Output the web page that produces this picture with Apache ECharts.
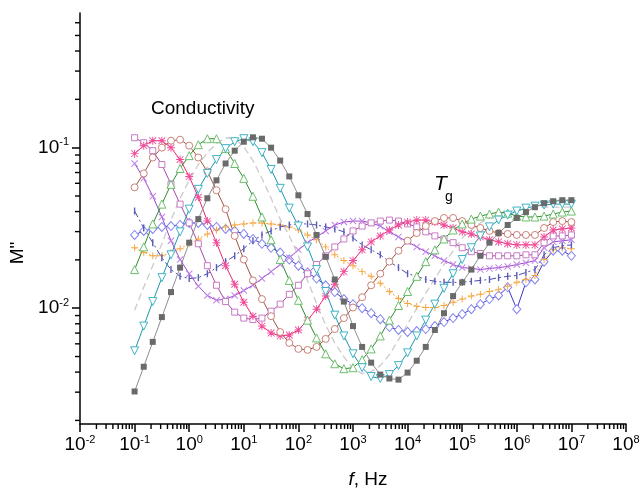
<!DOCTYPE html>
<html>
<head>
<meta charset="utf-8">
<script src="https://cdn.jsdelivr.net/npm/echarts@6/dist/echarts.min.js"></script>
<style>
html, body { margin: 0; padding: 0; background: #fff; }
#chart { width: 643px; height: 494px; }
</style>
</head>
<body>
<div id="chart"></div>
<script>
// measurement frequencies, Hz (6 points per decade)
var freq = [0.1, 0.147, 0.215, 0.316, 0.464, 0.681,
    1, 1.47, 2.15, 3.16, 4.64, 6.81,
    10, 14.7, 21.5, 31.6, 46.4, 68.1,
    100, 147, 215, 316, 464, 681,
    1000, 1470, 2150, 3160, 4640, 6810,
    1e4, 1.47e4, 2.15e4, 3.16e4, 4.64e4, 6.81e4,
    1e5, 1.47e5, 2.15e5, 3.16e5, 4.64e5, 6.81e5,
    1e6, 1.47e6, 2.15e6, 3.16e6, 4.64e6, 6.81e6,
    1e7];

// M'' for each curve
var graySquares = [0.00303,0.00432,0.00617,0.0088,0.0126,0.0179,0.0256,0.0359,0.0484,0.0626,0.0797,0.0958,0.1089,0.116,0.1137,0.1,0.0831,0.0662,0.0505,0.0386,0.0286,0.0209,0.0151,0.011,0.00774,0.00574,0.00458,0.00386,0.00365,0.00359,0.00397,0.00471,0.00574,0.00732,0.00931,0.0119,0.0145,0.0174,0.0212,0.0256,0.0294,0.033,0.0365,0.0397,0.0426,0.0451,0.0464,0.0471,0.0471];
var cyanTriangles = [0.00543,0.00774,0.011,0.0155,0.0215,0.0299,0.0414,0.055,0.0691,0.0843,0.0986,0.1089,0.1137,0.1089,0.0931,0.0732,0.0558,0.042,0.0325,0.0241,0.0174,0.0127,0.00905,0.00672,0.0052,0.00426,0.00375,0.00365,0.00386,0.00439,0.00527,0.00672,0.00843,0.0106,0.0133,0.0164,0.0201,0.0238,0.0282,0.0321,0.0354,0.038,0.0403,0.042,0.0432,0.0439,0.0445,0.0445,0.0445];
var lightGrayDash = [0.00972,0.0135,0.0184,0.0252,0.0354,0.0484,0.0626,0.0785,0.0931,0.1059,0.1153,0.1137,0.1014,0.0831,0.0644,0.0484,0.0359,0.0282,0.0212,0.0149,0.0107,0.00785,0.00608,0.00498,0.0042,0.00391,0.00403,0.00439,0.00513,0.00635,0.00797,0.01,0.0124,0.0153,0.0187,0.0228,0.0274,0.0307,0.034,0.0365,0.0386,0.0397,0.0408,0.0414,0.042,0.0426,0.0426,0.0426,0.0426];
var greenTriangles = [0.0174,0.0241,0.0335,0.0445,0.0591,0.0742,0.0892,0.1044,0.1137,0.1137,0.0986,0.0797,0.0644,0.0498,0.037,0.0267,0.0201,0.0149,0.0112,0.00843,0.00653,0.0052,0.00451,0.0042,0.00426,0.00478,0.00558,0.00672,0.00843,0.0104,0.0127,0.0158,0.0195,0.0231,0.027,0.0307,0.0335,0.0359,0.0375,0.0386,0.0397,0.0391,0.0375,0.037,0.037,0.0375,0.0386,0.0397,0.0403];
var brownCircles = [0.0566,0.0691,0.0868,0.1,0.1105,0.1121,0.1029,0.0868,0.0711,0.0543,0.0414,0.0282,0.0201,0.0149,0.0114,0.00892,0.00711,0.00608,0.00558,0.0055,0.00574,0.00644,0.00742,0.00868,0.0101,0.0117,0.0139,0.0164,0.0195,0.0228,0.0263,0.0294,0.0325,0.0349,0.0365,0.0365,0.0349,0.033,0.0316,0.0303,0.0294,0.029,0.0286,0.0286,0.0286,0.0316,0.0344,0.0349,0.0344];
var pinkStars = [0.0918,0.1029,0.1105,0.1105,0.1,0.0843,0.0662,0.0491,0.0349,0.0256,0.0184,0.0141,0.0109,0.00892,0.00774,0.00701,0.00672,0.00681,0.00732,0.00843,0.00986,0.0119,0.0141,0.0169,0.0198,0.0231,0.0259,0.0282,0.0307,0.033,0.0344,0.0354,0.0354,0.0344,0.033,0.0316,0.0299,0.029,0.0278,0.0267,0.0259,0.0252,0.0248,0.0248,0.0248,0.0278,0.0307,0.0312,0.0316];
var violetSquares = [0.1153,0.1074,0.0958,0.0785,0.0591,0.0445,0.034,0.0252,0.0184,0.0139,0.011,0.00945,0.00868,0.0085,0.00868,0.00958,0.0106,0.0122,0.0139,0.0164,0.0187,0.0212,0.0241,0.027,0.0303,0.0325,0.034,0.0349,0.0354,0.0349,0.0335,0.0321,0.0299,0.0282,0.027,0.0256,0.0238,0.0225,0.0219,0.0212,0.0212,0.0212,0.0212,0.0215,0.0215,0.0256,0.0282,0.0282,0.0286];
var violetCrosses = [0.0797,0.0644,0.0498,0.037,0.0263,0.0201,0.0164,0.0137,0.012,0.0112,0.0114,0.012,0.0129,0.0139,0.0153,0.0169,0.0187,0.0206,0.0231,0.0256,0.0278,0.0303,0.033,0.0344,0.0349,0.0349,0.034,0.0325,0.0299,0.0278,0.0259,0.0241,0.0225,0.0212,0.0198,0.0187,0.0179,0.0177,0.0174,0.0177,0.0179,0.0182,0.0187,0.0192,0.0198,0.0238,0.0259,0.0263,0.0267];
var blueDashDot = [0.0403,0.0316,0.0256,0.0206,0.0174,0.0158,0.0153,0.0155,0.0164,0.0179,0.0195,0.0212,0.0235,0.0263,0.0286,0.0303,0.0321,0.033,0.0335,0.0335,0.033,0.0321,0.0312,0.0299,0.0274,0.0248,0.0231,0.0215,0.0195,0.0179,0.0164,0.0158,0.0151,0.0147,0.0145,0.0145,0.0145,0.0147,0.0149,0.0151,0.0155,0.0158,0.016,0.0167,0.0174,0.0215,0.0238,0.0245,0.0248];
var orangePlus = [0.0238,0.0222,0.0212,0.0212,0.0222,0.0235,0.0252,0.027,0.029,0.0307,0.0321,0.033,0.0335,0.034,0.034,0.0335,0.033,0.0321,0.0307,0.0286,0.0267,0.0241,0.0215,0.0198,0.0184,0.0169,0.0158,0.0143,0.0127,0.0115,0.0107,0.0103,0.0101,0.0101,0.0104,0.0109,0.0114,0.0119,0.0122,0.0127,0.0131,0.0137,0.0145,0.0151,0.016,0.0201,0.0231,0.0238,0.0235];
var blueDiamonds = [0.0286,0.0303,0.0312,0.0321,0.0325,0.033,0.034,0.034,0.033,0.0321,0.0312,0.0303,0.029,0.027,0.0252,0.0238,0.0222,0.0201,0.0184,0.0167,0.0153,0.0139,0.0126,0.0114,0.0106,0.01,0.00931,0.00855,0.00763,0.00732,0.00711,0.00721,0.00742,0.00774,0.0082,0.00868,0.00918,0.00986,0.0106,0.0114,0.012,0.0135,0.00986,0.0145,0.0151,0.0195,0.0228,0.0228,0.0212];

// axis ticks
var xMajorTicks = [0.01, 0.1, 1, 10, 100, 1000, 1e4, 1e5, 1e6, 1e7, 1e8];
var yMajorTicks = [0.01, 0.1];
var X_MIN = 0.01, X_MAX = 1e8;
var Y_MIN = 0.0019, Y_MAX = 0.69;

var xMinorTicks = [];
var yMinorTicks = [];
for (var p = -2; p < 8; p++) {
    for (var m = 2; m < 10; m++) xMinorTicks.push(m * Math.pow(10, p));
}
for (var p = -3; p < 0; p++) {
    for (var m = 2; m < 10; m++) {
        var v = m * Math.pow(10, p);
        if (v >= Y_MIN && v <= Y_MAX) yMinorTicks.push(v);
    }
}

var FONT = '"Liberation Sans", Arial, sans-serif';

// symbols drawn as filled paths
var CROSS = 'path://M1,0 L5,4 L9,0 L10,1 L6,5 L10,9 L9,10 L5,6 L1,10 L0,9 L4,5 L0,1 Z';
var PLUS = 'path://M4.3,0 H5.7 V4.3 H10 V5.7 H5.7 V10 H4.3 V5.7 H0 V4.3 H4.3 Z';
var STAR = 'path://M4.4,0 H5.6 V4.4 H10 V5.6 H5.6 V10 H4.4 V5.6 H0 V4.4 H4.4 Z ' +
    'M1.2,0.4 L5,4.2 L8.8,0.4 L9.6,1.2 L5.8,5 L9.6,8.8 L8.8,9.6 L5,5.8 L1.2,9.6 L0.4,8.8 L4.2,5 L0.4,1.2 Z';

function pairs(values) {
    var out = [];
    for (var i = 0; i < freq.length; i++) out.push([freq[i], values[i]]);
    return out;
}

function makeLine(name, values, o) {
    return {
        name: name,
        type: 'line',
        data: pairs(values),
        symbol: o.symbol || 'none',
        symbolSize: o.size || 6,
        symbolRotate: o.rotate || 0,
        showSymbol: !!o.symbol,
        itemStyle: {
            color: o.fill || o.border,
            borderColor: o.border,
            borderWidth: o.fill ? 1 : 0
        },
        lineStyle: {
            color: o.line,
            width: o.width || 1,
            type: o.type || 'solid'
        },
        z: o.z || 2,
        silent: true,
        animation: false
    };
}

// minor ticks (2..9 x 10^n): small bars placed on the axes by the chart's scales
function minorTicks(data, horizontal) {
    return {
        type: 'scatter',
        data: data,
        clip: false,
        silent: true,
        animation: false,
        z: 5,
        symbol: 'rect',
        symbolSize: horizontal ? [1.4, 5] : [5, 1.4],
        symbolOffset: horizontal ? [0, 2.5] : [-2.5, 0],
        itemStyle: { color: '#000', opacity: 1 }
    };
}

function powLabel(v) {
    var e = Math.round(Math.log(v) / Math.LN10);
    return '{b|10}{s|' + e + '}';
}

var richPow = {
    b: { fontFamily: FONT, fontSize: 19, color: '#000', lineHeight: 22 },
    s: { fontFamily: FONT, fontSize: 11, color: '#000', lineHeight: 14, verticalAlign: 'top' }
};

var xTickData = xMinorTicks.map(function (v) { return [v, Y_MIN]; });
var yTickData = yMinorTicks.map(function (v) { return [X_MIN, v]; });

var series = [
    makeLine('light gray', lightGrayDash, { line: '#cbcbcb', width: 1.3, type: [7, 4] }),
    makeLine('diamonds', blueDiamonds, { symbol: 'diamond', size: [8, 9], fill: '#fff', border: '#8585ee', line: '#3a3ac8' }),
    makeLine('orange', orangePlus, { symbol: PLUS, size: 7, border: '#f7a640', line: '#f7a640', type: [2, 2] }),
    makeLine('dash-dot', blueDashDot, { symbol: 'rect', size: [1.4, 7], border: '#5a5ab8', line: '#4a4ab0', type: [7, 3, 2, 3] }),
    makeLine('crosses', violetCrosses, { symbol: CROSS, size: 7, border: '#bf80e6', line: '#9b45cf' }),
    makeLine('squares', violetSquares, { symbol: 'rect', size: 6, fill: '#fff', border: '#c77bc4', line: '#a64aa6' }),
    makeLine('stars', pinkStars, { symbol: STAR, size: 8, border: '#f0509a', line: '#e8287a' }),
    makeLine('circles', brownCircles, { symbol: 'circle', size: 7, fill: '#fff', border: '#c98078', line: '#a0523d' }),
    makeLine('green', greenTriangles, { symbol: 'triangle', size: 8, fill: '#fff', border: '#6cbf6c', line: '#2e8b2e' }),
    makeLine('cyan', cyanTriangles, { symbol: 'triangle', rotate: 180, size: 8, fill: '#fff', border: '#3fb4c6', line: '#1f97aa' }),
    makeLine('gray', graySquares, { symbol: 'rect', size: 6, border: '#6a6a6a', line: '#8e8e8e', z: 3 }),
    minorTicks(xTickData, true),
    minorTicks(yTickData, false)
];

var option = {
    backgroundColor: '#fff',
    animation: false,
    grid: { left: 80, right: 17, top: 13, bottom: 66 },
    xAxis: {
        type: 'log', logBase: 10, min: X_MIN, max: X_MAX, position: 'bottom',
        axisLine: { lineStyle: { color: '#000', width: 1.5 } },
        axisTick: { length: 8, customValues: xMajorTicks, lineStyle: { color: '#000', width: 1.5 } },
        axisLabel: { customValues: xMajorTicks, formatter: powLabel, rich: richPow, margin: 10 },
        splitLine: { show: false },
        name: '{i|f}, Hz',
        nameLocation: 'middle',
        nameGap: 46,
        nameTextStyle: {
            fontFamily: FONT, fontSize: 19, color: '#000', padding: [0, 0, 0, 30],
            rich: { i: { fontFamily: FONT, fontSize: 19, fontStyle: 'italic', color: '#000' } }
        }
    },
    yAxis: {
        type: 'log', logBase: 10, min: Y_MIN, max: Y_MAX, position: 'left',
        axisLine: { show: true, lineStyle: { color: '#000', width: 1.5 } },
        axisTick: { show: true, length: 8, customValues: yMajorTicks, lineStyle: { color: '#000', width: 1.5 } },
        axisLabel: { customValues: yMajorTicks, formatter: powLabel, rich: richPow, margin: 11 },
        splitLine: { show: false },
        name: 'M"',
        nameLocation: 'middle',
        nameGap: 45,
        nameTextStyle: { fontFamily: FONT, fontSize: 19, color: '#000', padding: [0, 69, 0, 0] }
    },
    graphic: [
        { type: 'text', left: 151, top: 99, style: { text: 'Conductivity', fontFamily: FONT, fontSize: 19, fill: '#000' } },
        { type: 'text', left: 434, top: 174, style: { text: 'T', fontFamily: FONT, fontSize: 21, fontStyle: 'italic', fill: '#000' } },
        { type: 'text', left: 445, top: 190, style: { text: 'g', fontFamily: FONT, fontSize: 14, fill: '#000' } }
    ],
    series: series
};

var chart = echarts.init(document.getElementById('chart'));
chart.setOption(option);
</script>
</body>
</html>
